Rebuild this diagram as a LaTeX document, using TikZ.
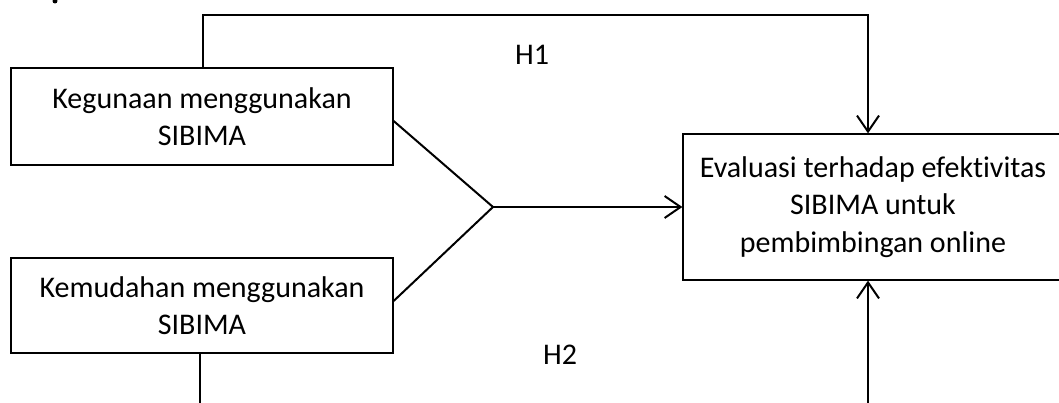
\documentclass[tikz,border=0pt]{standalone}
\usepackage{fontspec}
\setmainfont{Carlito}[Ligatures={NoCommon,NoRare,NoContextual}]
\usetikzlibrary{arrows.meta}
\begin{document}
\begin{tikzpicture}[x=1pt,y=-1pt,
  box/.style={draw=black,line width=1.3pt,minimum width=382pt,inner sep=0pt,align=center,
    font=\fontsize{30}{37.5}\selectfont},
  conn/.style={line width=2pt},
  arr/.style={line width=2pt,-{Straight Barb[length=16pt,width=22pt,line width=2pt]}},
  lbl/.style={font=\fontsize{30}{37.5}\selectfont,inner sep=0pt}]
\useasboundingbox (0,0) rectangle (1059,403);
\fill (55,1) ellipse (2.5pt and 2.5pt);
\node[box,minimum height=97pt] (b1) at (202,116.5) {Kegunaan menggunakan\\SIBIMA};
\node[box,minimum height=95pt] (b2) at (202,305.5) {Kemudahan menggunakan\\SIBIMA};
\node[box,minimum width=380pt,minimum height=146pt] (b3) at (873,207) {Evaluasi terhadap efekt\kern0pt ivitas\\SIBIMA untuk\\pembimbingan online};
\node[lbl] (h1) at (532,55) {H1};
\node[lbl] (h2) at (560,355) {H2};
\coordinate (j) at (493,207);
\coordinate (top) at (203,15);
\coordinate (b2end) at (200,403);
\coordinate (b3in) at (868,403);
\draw[arr] (b1.north -| top) -- (top) -| ([xshift=-5pt]b3.north);
\draw[conn] ([yshift=-4.5pt]b1.east) -- (j);
\draw[conn] ([yshift=4.5pt]b2.east) -- (j);
\draw[arr,line width=2.5pt] (j) -- (b3.west);
\draw[conn] (b2.south -| b2end) -- (b2end);
\draw[arr] (b3in) -- (b3.south -| b3in);
\end{tikzpicture}
\end{document}
